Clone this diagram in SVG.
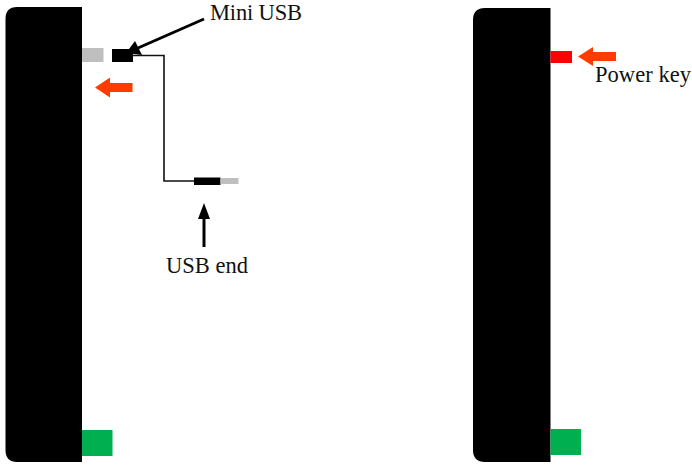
<svg xmlns="http://www.w3.org/2000/svg" width="692" height="465" viewBox="0 0 692 465">
<style>
.body{fill:#000}
.green{fill:#00b050}
.lbl{font-family:"Liberation Serif","Times New Roman",serif;font-size:22.500px;fill:#111}
.pointer{fill:#ff3c00}
.wire{fill:none;stroke:#111;stroke-width:1.600}
.lead{fill:none;stroke:#000;stroke-width:3}
</style>
<g id="device-left">
<path class="body" d="M17 7H82V462H17Q5.500 462 5.500 450V19Q5.500 7 17 7Z"/>
<rect class="green" x="82" y="430" width="30.500" height="26"/>
</g>
<g id="usb-port"><rect x="82" y="48" width="21.500" height="14" fill="#bfbfbf"/></g>
<g id="mini-usb-plug"><rect x="112" y="49" width="21" height="13" fill="#000"/></g>
<g id="usb-end-plug">
<rect x="194" y="177.500" width="26.500" height="7.500" fill="#000"/>
<rect x="220.500" y="178" width="18" height="6" fill="#bfbfbf"/>
</g>
<g id="insert-arrow"><path class="pointer" d="M95 87.500L110 77.500V83H132.500V92H110V97.500Z"/></g>
<g id="device-right">
<path class="body" d="M485 8H550.500V462H485Q473 462 473 450V20Q473 8 485 8Z"/>
<rect class="green" x="550.500" y="429" width="30.500" height="26"/>
</g>
<g id="power-key"><rect x="550.500" y="51" width="21.500" height="12" fill="#ff0000"/></g>
<g id="power-arrow"><path class="pointer" d="M578 56.500L593 47V52H616V61H593V66Z"/></g>
<g id="connectors">
<path class="wire" d="M133 55.500H164V181H194"/>
<path class="lead" d="M204 19L138 48"/>
<path d="M126 53L135 41L142 55Z" fill="#000"/>
<path class="lead" d="M204 247V216"/>
<path d="M204 203L210 219H198Z" fill="#000"/>
</g>
<g id="labels">
<text class="lbl" x="210" y="19.500" textLength="92">Mini USB</text>
<text class="lbl" x="166" y="273" textLength="82">USB end</text>
<text class="lbl" x="595" y="81.500" textLength="96">Power key</text>
</g>
</svg>
